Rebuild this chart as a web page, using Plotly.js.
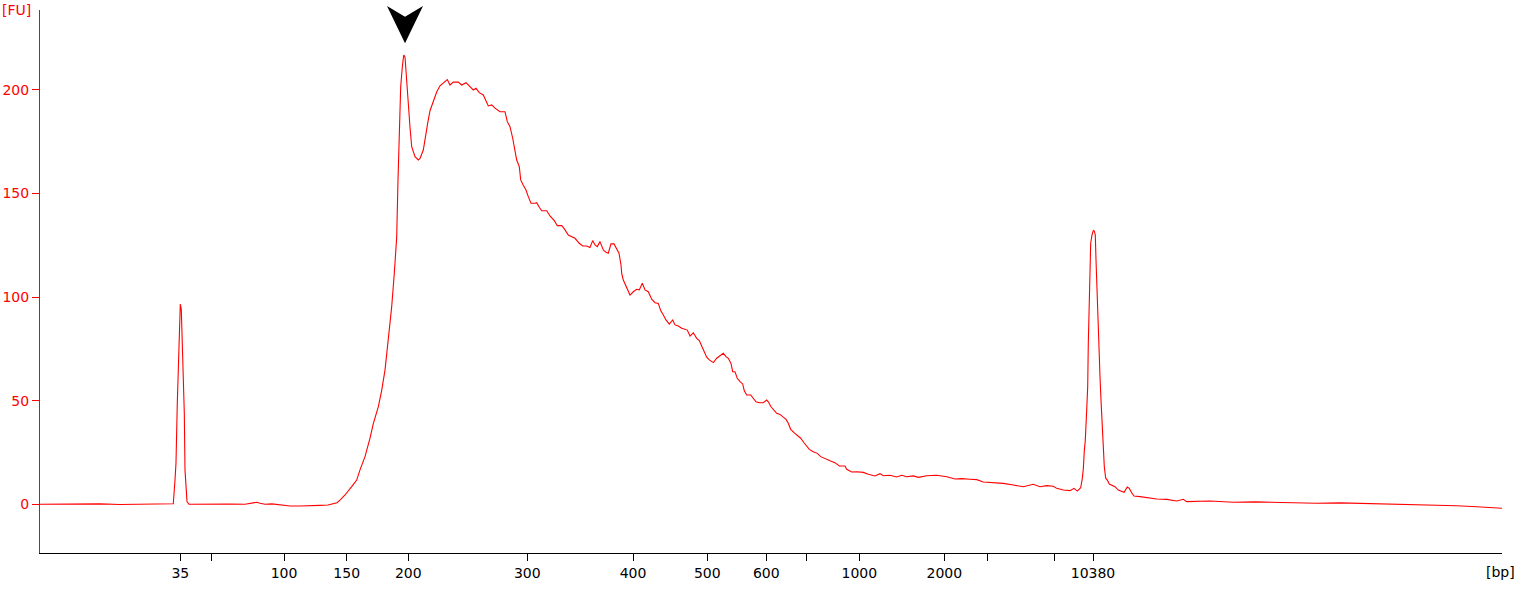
<!DOCTYPE html>
<html>
<head>
<meta charset="utf-8">
<script src="https://cdn.plot.ly/plotly-3.0.1.min.js"></script>
<style>html,body{margin:0;padding:0;background:#fff;}#chart{width:1524px;height:599px;}</style>
</head>
<body>
<div id="chart"></div>
<script>
// Migration time (arbitrary units) of each sample of the electropherogram
const migrationTime = [40,60,80,100,120,140,160,172,173.3,175,176,177.3,178.3,179.3,180.3,181.3,182.3,183.3,184.3,185,186,187,189,200,215,230,245,252,256.7,260,265,272,280,290,300,310,320,328,333,337,340,345,351.7,356.7,360,365,370,373.3,378.3,381.7,385,388.3,391.7,394.3,396.7,398,399,400.7,402.3,403.7,405,406,407.3,408.7,410,411.7,415,418.3,420,423.3,425.7,427.7,430,433.3,436.7,440,443.3,447.3,450,453.3,458.3,461.7,466,470,473.3,476,479.3,483.3,486,488.3,491.7,495,500,505,507.3,510,512.7,515,516.7,519.3,520.7,523.3,526,528.3,531,535,536.7,539.3,541.7,546.7,550,554.3,557.3,561.7,564,568.3,571.7,575,579.3,582.7,586.7,590,592.7,595,597.3,600,603.3,606,608.3,611,614,616.7,619,621,621.7,623.3,626.7,630,633.3,636.7,639.3,642.3,645,648.3,651.7,655,658.3,660.7,663.3,666,669.3,672.7,675,678.3,681.7,684,687.3,690,693.3,696.7,699.3,701.7,705,706.7,709.3,713.3,716.7,720,723.3,726,728.3,731,732.7,735,737.3,740,742.7,744.3,746.7,750.7,753.3,756,759.3,763.3,766.7,768.3,771,774,776.7,780,783.3,786,788.3,790.7,794,797.3,800.7,804,806.7,809.3,813.3,817.3,820.7,824,830,835,839.3,845,846.7,851.7,856.7,863.3,868.3,875,880,883.3,890,896.7,901.7,906.7,913.3,918.3,926.7,936.7,946.7,955,961.7,970,976.7,983.3,993.3,1003.3,1013.3,1023.3,1033.3,1040,1046.7,1053.3,1056.7,1063.3,1070,1074,1077.3,1080.7,1082.3,1083.3,1084.3,1085.3,1086.7,1087.7,1088.3,1089.3,1090.7,1092,1093.3,1094.3,1095.3,1096,1097,1098.3,1099.3,1100,1101,1102,1103.3,1104.3,1105.7,1107.3,1109.3,1111.7,1115,1118.3,1121.7,1124,1127.3,1129.3,1131.7,1134,1140,1146.7,1156.7,1166.7,1176.7,1183.3,1186.7,1210,1233.3,1255,1276.7,1296,1316.7,1340,1360,1380,1400,1420,1433.3,1456.7,1476.7,1486.7,1500,1502];
// Fluorescence (FU)
const fluorescence = [0,0.1,-0.1,0.2,-0.1,0,0.1,0,0.3,11.7,20,49,66,92,96.7,94,78.5,61.6,44,16.5,8.5,1.3,0,0.1,0,0.1,0,0.5,1.0,0.5,0,0.2,-0.3,-0.8,-0.8,-0.8,-0.5,-0.3,0.2,0.8,2,4.5,8.5,11.7,16.6,23,31.9,39,47,55,64.8,79.3,95.4,111.5,129,156.6,179,201.6,211,216.9,216,208,200,190,182,172.6,167.8,166.2,167,171,179,184,190,195,199,202,203.5,205,202.4,203.8,203.8,202.4,203.5,201.6,200,200.8,198.7,197.6,194.4,192.3,192.8,191.2,189.5,189.5,184.7,182.3,176.7,171,166.2,163,156.6,154,151.7,148.5,145.3,145.3,145.6,143.4,141.7,141.7,139.2,136.9,134.5,134.5,133.2,130,129.2,128.4,126,124.7,124.7,124,127.3,125.2,124.4,126.8,122.8,121.6,121.2,125.7,125.7,123.1,121.2,115.5,111.5,108.3,105,101,102.6,103.8,103.5,106.7,103.5,102.6,99,97.3,97,93.5,91.4,89,87,89,86.6,86.1,85,84.5,84.1,81.2,82.8,80.1,79,76.4,73.2,71,69.7,68.4,70.5,71.6,72.9,71.3,70.5,68,64,64,60.8,59.2,58.1,54.8,52.8,52.8,51.2,49.5,49,49,50.3,49.5,47.1,45.5,43.9,43.4,42,41,39.1,36.2,34.6,33.4,31.9,29.7,28.1,26.5,25.4,24.6,23,22.2,21,20.1,18.5,18.5,16.9,15.6,15.7,15.4,14.5,13.7,14.8,13.8,14,13.2,14,13.3,13.7,13,13.8,14,13.3,12.2,12.4,12.1,11.9,10.8,10.6,10.1,9.3,8.5,9.7,8.5,9,8.7,7.7,6.9,6.6,7.7,6.4,8.0,12.5,17,25.8,31,45.5,56.8,77.7,101.9,126,130,132.1,132,130,118,101.9,84.1,74.5,61.6,50.3,39.1,27.8,18.2,12.6,11.7,9.8,9.3,8.5,6.9,6.1,5.8,8.3,7.7,5.6,4,3.7,3.2,2.6,2.4,1.6,2.4,1.3,1.6,1.0,1.2,1,0.8,0.5,0.7,0.5,0.3,0,-0.2,-0.5,-0.7,-1.2,-1.6,-1.9,-1.9];

// Ladder positions (migration time) and their size labels in bp
const ladderTimes = [180.3,211.3,284,346.7,408.3,527.3,633,707.3,766.3,806.3,859.3,944.3,987.3,1054.3,1093];
const ladderLabels = ['35','','100','150','200','300','400','500','600','','1000','2000','','','10380'];

// FU ticks
const fuTicks = [0,50,100,150,200];
const xRange = [40,1502];
const yRange = [-23.5,238.6];

// Arrow marks the tallest peak of the main smear
let peakIdx = 0;
for (let i = 0; i < fluorescence.length; i++) if (migrationTime[i] > 300 && migrationTime[i] < 1000 && fluorescence[i] > fluorescence[peakIdx]) peakIdx = i;
const peakT = migrationTime[peakIdx] + 1.3;
const hw = 18;
const arrowPath = `M ${peakT} 0.9387 L ${peakT - hw} 1.0074 L ${peakT} 0.9877 L ${peakT + hw} 1.0074 Z`;

const font = 'DejaVu Sans, Verdana, sans-serif';
const fs = 14;

const trace = {
  x: migrationTime, y: fluorescence, type: 'scatter', mode: 'lines',
  line: {color: '#ff0000', width: 1.1}, hoverinfo: 'skip'
};

const layout = {
  width: 1524, height: 599,
  margin: {l: 40, r: 22, t: 10, b: 46, pad: 0},
  paper_bgcolor: '#ffffff', plot_bgcolor: '#ffffff',
  showlegend: false,
  font: {family: font, size: fs, color: '#000'},
  xaxis: {
    range: xRange, showgrid: false, zeroline: false,
    showline: true, linecolor: '#000', linewidth: 1,
    ticks: 'outside', ticklen: 7, tickwidth: 1, tickcolor: '#000',
    tickmode: 'array', tickvals: ladderTimes, ticktext: ladderLabels,
    tickfont: {family: font, size: fs, color: '#000'}
  },
  yaxis: {
    range: yRange, showgrid: false, zeroline: false,
    showline: true, linecolor: '#ff0000', linewidth: 1,
    ticks: 'outside', ticklen: 7, tickwidth: 1, tickcolor: '#ff0000',
    tickmode: 'array', tickvals: fuTicks,
    tickfont: {family: font, size: fs, color: '#ff0000'}
  },
  shapes: [{
    type: 'path', xref: 'x', yref: 'paper', path: arrowPath,
    fillcolor: '#000', line: {width: 0}, layer: 'above'
  }],
  annotations: [
    {text: '[FU]', xref: 'paper', yref: 'paper', x: -0.0275, y: 1.018, xanchor: 'left', yanchor: 'top', showarrow: false, font: {family: font, size: fs, color: '#ff0000'}},
    {text: '[bp]', xref: 'paper', yref: 'paper', x: 1.0105, y: -0.035, xanchor: 'right', yanchor: 'middle', showarrow: false, font: {family: font, size: fs, color: '#000'}}
  ]
};

Plotly.newPlot('chart', [trace], layout, {staticPlot: true, displayModeBar: false});
</script>
</body>
</html>
